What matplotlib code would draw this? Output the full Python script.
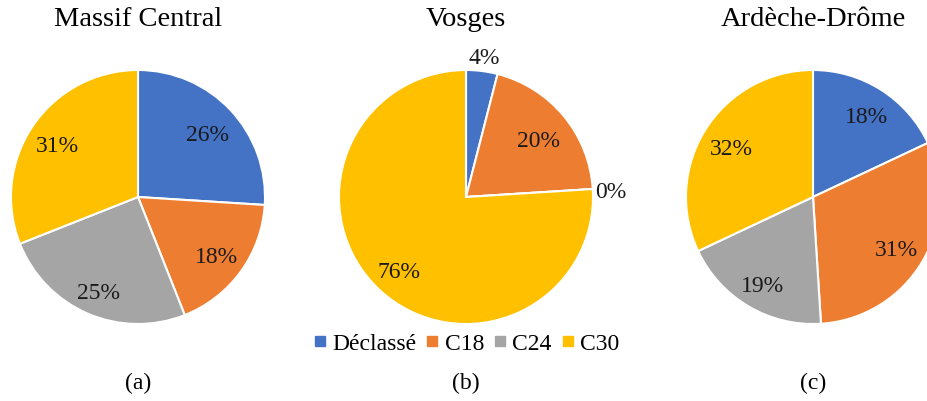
import matplotlib.pyplot as plt
from matplotlib.lines import Line2D
import numpy as np

plt.rcParams['font.family'] = ['Liberation Serif', 'DejaVu Serif']

categories = ["Déclassé", "C18", "C24", "C30"]
colors = ["#4472C4", "#ED7D31", "#A5A5A5", "#FFC000"]

regions = ["Massif Central", "Vosges", "Ardèche-Drôme"]
panel_tags = ["(a)", "(b)", "(c)"]
massif = [26, 18, 25, 31]
vosges = [4, 20, 0, 76]
ardeche = [18, 31, 19, 32]
shares = [massif, vosges, ardeche]

# radial position of each percentage label (fraction of radius)
label_dist = [
    [0.75, 0.76, 0.79, 0.77],
    [1.13, 0.74, 1.14, 0.77],
    [0.78, 0.76, 0.78, 0.76],
]

W, H = 928, 402
R = 127
centers = [(138, 198), (466, 198), (813, 198)]

fig = plt.figure(figsize=(W / 100, H / 100), dpi=100)

for i, (cx, cy) in enumerate(centers):
    ax = fig.add_axes([(cx - R) / W, (H - cy - R) / H, 2 * R / W, 2 * R / H])
    vals = shares[i]
    wedges, _ = ax.pie(vals, colors=colors, startangle=90, counterclock=False,
                       radius=1, wedgeprops=dict(edgecolor='white', linewidth=1.5))
    for w, v, d in zip(wedges, vals, label_dist[i]):
        ang = np.deg2rad((w.theta1 + w.theta2) / 2)
        # small downward nudge so the digits, not the text box, sit on the spot
        ax.text(d * np.cos(ang), d * np.sin(ang) - 0.025, f"{v}%", ha='center', va='center',
                fontsize=17, color='#1a1a1a')
    ax.set_xlim(-1, 1)
    ax.set_ylim(-1, 1)
    ax.set_aspect('equal')
    ax.axis('off')
    fig.text(cx / W, 1 - 19 / H, regions[i], ha='center', va='center', fontsize=20.5)
    fig.text(cx / W, 1 - 383 / H, panel_tags[i], ha='center', va='center', fontsize=17)

handles = [Line2D([], [], marker='s', linestyle='', color=c, markersize=7.5) for c in colors]
fig.legend(handles, categories, loc='center', bbox_to_anchor=(467 / W, 1 - 344 / H),
           ncol=4, frameon=False, fontsize=17, handlelength=0.45, handletextpad=0.3,
           columnspacing=0.45, borderpad=0, borderaxespad=0)

fig.savefig("out.png", dpi=100)
